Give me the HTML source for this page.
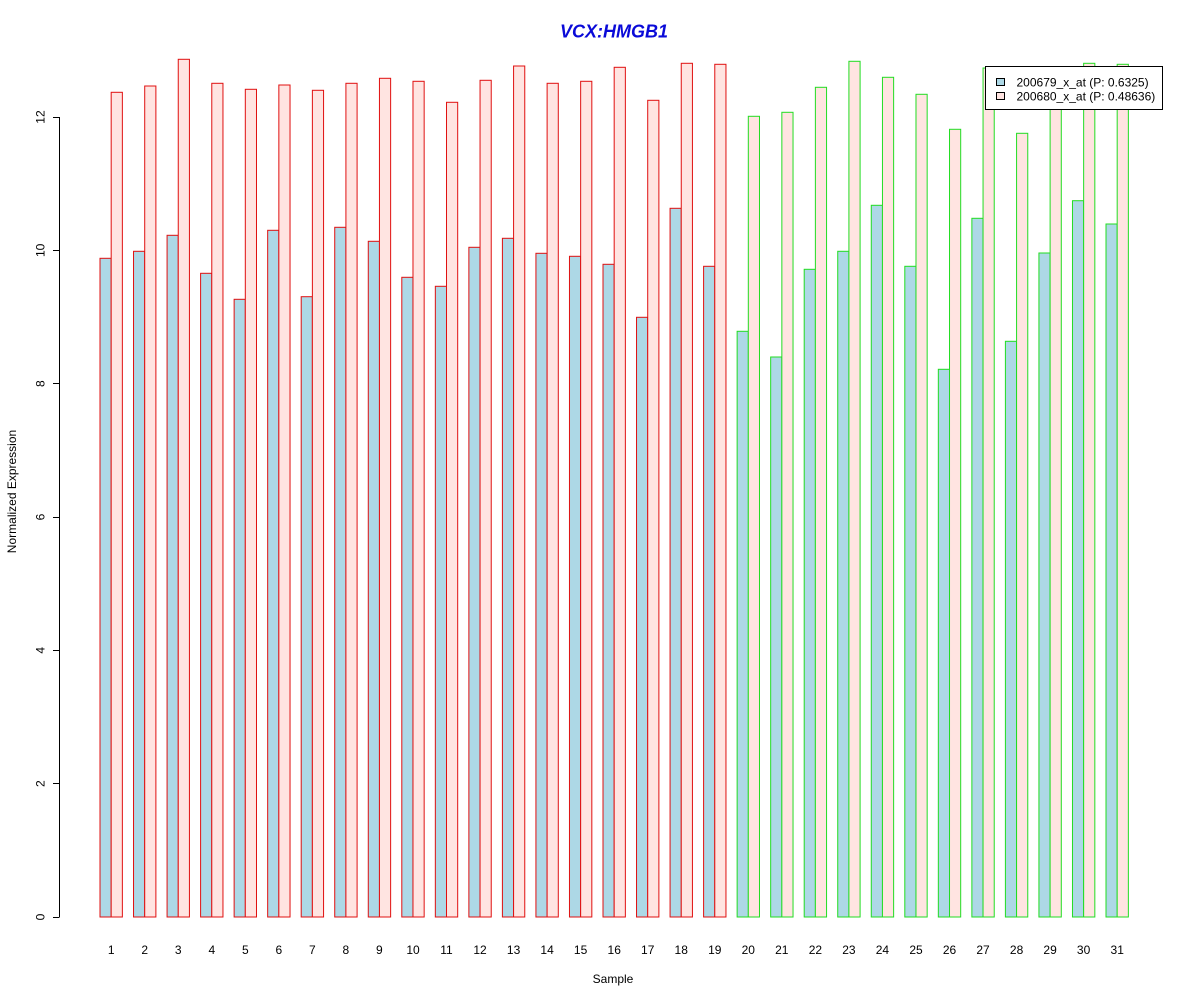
<!DOCTYPE html>
<html><head><meta charset="utf-8"><style>
html,body{margin:0;padding:0;background:#fff;}
svg{display:block;font-family:"Liberation Sans",Arial,sans-serif;}
</style></head><body>
<svg width="1200" height="1000" viewBox="0 0 1200 1000" xmlns="http://www.w3.org/2000/svg">
<rect width="1200" height="1000" fill="#fff"/>
<text x="614" y="37.5" text-anchor="middle" font-size="18" font-weight="bold" font-style="italic" fill="#0a0ad8">VCX:HMGB1</text>
<g stroke="#000" stroke-width="1" fill="none">
<line x1="59.5" y1="117" x2="59.5" y2="917"/>
<line x1="53" y1="917.5" x2="59.5" y2="917.5"/>
<line x1="53" y1="783.5" x2="59.5" y2="783.5"/>
<line x1="53" y1="650.5" x2="59.5" y2="650.5"/>
<line x1="53" y1="517.5" x2="59.5" y2="517.5"/>
<line x1="53" y1="383.5" x2="59.5" y2="383.5"/>
<line x1="53" y1="250.5" x2="59.5" y2="250.5"/>
<line x1="53" y1="117.5" x2="59.5" y2="117.5"/>
</g>
<g font-size="12" fill="#000" text-anchor="middle">
<text x="44.5" y="917" transform="rotate(-90 44.5 917)">0</text>
<text x="44.5" y="783.7" transform="rotate(-90 44.5 783.7)">2</text>
<text x="44.5" y="650.3" transform="rotate(-90 44.5 650.3)">4</text>
<text x="44.5" y="517" transform="rotate(-90 44.5 517)">6</text>
<text x="44.5" y="383.7" transform="rotate(-90 44.5 383.7)">8</text>
<text x="44.5" y="250.3" transform="rotate(-90 44.5 250.3)">10</text>
<text x="44.5" y="117" transform="rotate(-90 44.5 117)">12</text>
<text x="16" y="491.5" transform="rotate(-90 16 491.5)">Normalized Expression</text>
<text x="613" y="983">Sample</text>
</g>
<g stroke="#e01010" stroke-width="1">
<rect x="100" y="258.3" width="11.18" height="658.7" fill="#ADD8E6"/><rect x="111.18" y="92.3" width="11.18" height="824.7" fill="#FFE4E1"/>
<rect x="133.53" y="251.3" width="11.18" height="665.7" fill="#ADD8E6"/><rect x="144.71" y="86" width="11.18" height="831" fill="#FFE4E1"/>
<rect x="167.07" y="235.3" width="11.18" height="681.7" fill="#ADD8E6"/><rect x="178.25" y="59.3" width="11.18" height="857.7" fill="#FFE4E1"/>
<rect x="200.6" y="273.3" width="11.18" height="643.7" fill="#ADD8E6"/><rect x="211.78" y="83.3" width="11.18" height="833.7" fill="#FFE4E1"/>
<rect x="234.13" y="299.3" width="11.18" height="617.7" fill="#ADD8E6"/><rect x="245.31" y="89.3" width="11.18" height="827.7" fill="#FFE4E1"/>
<rect x="267.67" y="230.3" width="11.18" height="686.7" fill="#ADD8E6"/><rect x="278.85" y="85" width="11.18" height="832" fill="#FFE4E1"/>
<rect x="301.2" y="296.7" width="11.18" height="620.3" fill="#ADD8E6"/><rect x="312.38" y="90.3" width="11.18" height="826.7" fill="#FFE4E1"/>
<rect x="334.73" y="227.3" width="11.18" height="689.7" fill="#ADD8E6"/><rect x="345.91" y="83.3" width="11.18" height="833.7" fill="#FFE4E1"/>
<rect x="368.27" y="241.3" width="11.18" height="675.7" fill="#ADD8E6"/><rect x="379.45" y="78.3" width="11.18" height="838.7" fill="#FFE4E1"/>
<rect x="401.8" y="277.3" width="11.18" height="639.7" fill="#ADD8E6"/><rect x="412.98" y="81.3" width="11.18" height="835.7" fill="#FFE4E1"/>
<rect x="435.33" y="286.3" width="11.18" height="630.7" fill="#ADD8E6"/><rect x="446.51" y="102.3" width="11.18" height="814.7" fill="#FFE4E1"/>
<rect x="468.87" y="247.3" width="11.18" height="669.7" fill="#ADD8E6"/><rect x="480.05" y="80.3" width="11.18" height="836.7" fill="#FFE4E1"/>
<rect x="502.4" y="238.3" width="11.18" height="678.7" fill="#ADD8E6"/><rect x="513.58" y="66" width="11.18" height="851" fill="#FFE4E1"/>
<rect x="535.93" y="253.3" width="11.18" height="663.7" fill="#ADD8E6"/><rect x="547.11" y="83.3" width="11.18" height="833.7" fill="#FFE4E1"/>
<rect x="569.47" y="256.3" width="11.18" height="660.7" fill="#ADD8E6"/><rect x="580.65" y="81.3" width="11.18" height="835.7" fill="#FFE4E1"/>
<rect x="603" y="264.3" width="11.18" height="652.7" fill="#ADD8E6"/><rect x="614.18" y="67.3" width="11.18" height="849.7" fill="#FFE4E1"/>
<rect x="636.53" y="317.3" width="11.18" height="599.7" fill="#ADD8E6"/><rect x="647.71" y="100.3" width="11.18" height="816.7" fill="#FFE4E1"/>
<rect x="670.07" y="208.3" width="11.18" height="708.7" fill="#ADD8E6"/><rect x="681.25" y="63.3" width="11.18" height="853.7" fill="#FFE4E1"/>
<rect x="703.6" y="266.3" width="11.18" height="650.7" fill="#ADD8E6"/><rect x="714.78" y="64.3" width="11.18" height="852.7" fill="#FFE4E1"/>
</g>
<g stroke="#22dd22" stroke-width="1">
<rect x="737.13" y="331.3" width="11.18" height="585.7" fill="#ADD8E6"/><rect x="748.31" y="116.3" width="11.18" height="800.7" fill="#FFE4E1"/>
<rect x="770.67" y="357" width="11.18" height="560" fill="#ADD8E6"/><rect x="781.85" y="112.3" width="11.18" height="804.7" fill="#FFE4E1"/>
<rect x="804.2" y="269.3" width="11.18" height="647.7" fill="#ADD8E6"/><rect x="815.38" y="87.3" width="11.18" height="829.7" fill="#FFE4E1"/>
<rect x="837.73" y="251.3" width="11.18" height="665.7" fill="#ADD8E6"/><rect x="848.91" y="61.3" width="11.18" height="855.7" fill="#FFE4E1"/>
<rect x="871.27" y="205.3" width="11.18" height="711.7" fill="#ADD8E6"/><rect x="882.45" y="77.3" width="11.18" height="839.7" fill="#FFE4E1"/>
<rect x="904.8" y="266.3" width="11.18" height="650.7" fill="#ADD8E6"/><rect x="915.98" y="94.3" width="11.18" height="822.7" fill="#FFE4E1"/>
<rect x="938.33" y="369.3" width="11.18" height="547.7" fill="#ADD8E6"/><rect x="949.51" y="129.3" width="11.18" height="787.7" fill="#FFE4E1"/>
<rect x="971.87" y="218.3" width="11.18" height="698.7" fill="#ADD8E6"/><rect x="983.05" y="68" width="11.18" height="849" fill="#FFE4E1"/>
<rect x="1005.4" y="341.3" width="11.18" height="575.7" fill="#ADD8E6"/><rect x="1016.58" y="133.3" width="11.18" height="783.7" fill="#FFE4E1"/>
<rect x="1038.93" y="253" width="11.18" height="664" fill="#ADD8E6"/><rect x="1050.11" y="95" width="11.18" height="822" fill="#FFE4E1"/>
<rect x="1072.47" y="200.7" width="11.18" height="716.3" fill="#ADD8E6"/><rect x="1083.65" y="63.3" width="11.18" height="853.7" fill="#FFE4E1"/>
<rect x="1106" y="224" width="11.18" height="693" fill="#ADD8E6"/><rect x="1117.18" y="64.3" width="11.18" height="852.7" fill="#FFE4E1"/>
</g>
<g font-size="12" fill="#000" text-anchor="middle">
<text x="111.2" y="954">1</text><text x="144.7" y="954">2</text><text x="178.2" y="954">3</text><text x="211.8" y="954">4</text>
<text x="245.3" y="954">5</text><text x="278.8" y="954">6</text><text x="312.4" y="954">7</text><text x="345.9" y="954">8</text>
<text x="379.4" y="954">9</text><text x="413" y="954">10</text><text x="446.5" y="954">11</text><text x="480" y="954">12</text>
<text x="513.6" y="954">13</text><text x="547.1" y="954">14</text><text x="580.6" y="954">15</text><text x="614.2" y="954">16</text>
<text x="647.7" y="954">17</text><text x="681.2" y="954">18</text><text x="714.8" y="954">19</text><text x="748.3" y="954">20</text>
<text x="781.8" y="954">21</text><text x="815.4" y="954">22</text><text x="848.9" y="954">23</text><text x="882.4" y="954">24</text>
<text x="916" y="954">25</text><text x="949.5" y="954">26</text><text x="983" y="954">27</text><text x="1016.6" y="954">28</text>
<text x="1050.1" y="954">29</text><text x="1083.6" y="954">30</text><text x="1117.2" y="954">31</text>
</g>
<rect x="985.5" y="66.5" width="177" height="43" fill="#fff" stroke="#000" stroke-width="1"/>
<rect x="996.5" y="78.5" width="8" height="7" fill="#ADD8E6" stroke="#000" stroke-width="1"/>
<rect x="996.5" y="92.5" width="8" height="7" fill="#FFE4E1" stroke="#000" stroke-width="1"/>
<g font-size="12" fill="#000">
<text x="1016.5" y="86.5">200679_x_at (P: 0.6325)</text>
<text x="1016.5" y="100.5">200680_x_at (P: 0.48636)</text>
</g>
</svg>
</body></html>
